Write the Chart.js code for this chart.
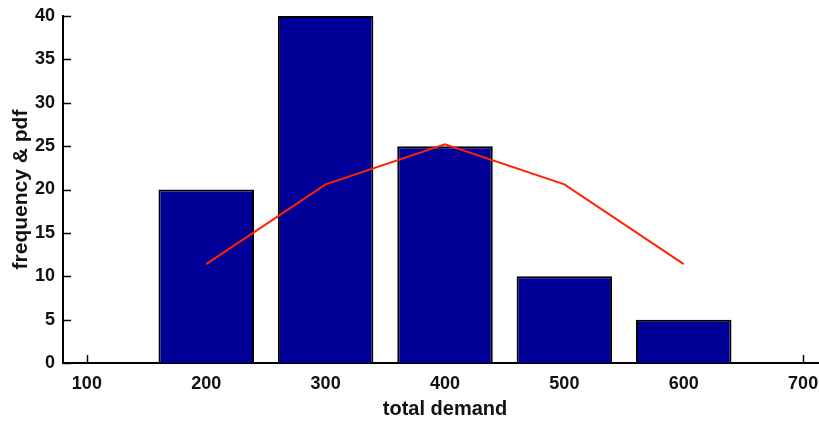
<!DOCTYPE html>
<html>
<head>
<meta charset="utf-8">
<script src="https://cdn.jsdelivr.net/npm/chart.js@4"></script>
<style>
  html, body { margin: 0; padding: 0; background: #fff; overflow: hidden; }
  #wrap { width: 830px; height: 421px; }
</style>
</head>
<body>
<div id="wrap"><canvas id="chart" width="830" height="421"></canvas></div>
<script>
const demand    = [200, 300, 400, 500, 600]
const frequency = [20, 40, 25, 10, 5]
const pdf       = [11.4, 20.6, 25.2, 20.6, 11.4]
const xTicks    = [100, 200, 300, 400, 500, 600, 700]
const yTicks    = [0, 5, 10, 15, 20, 25, 30, 35, 40]

const FONT = 'Liberation Sans, Arial, sans-serif'

// small inward tick marks, like the original plot
const inwardTicks = {
  id: 'inwardTicks',
  beforeDatasetsDraw(chart) {
    const { ctx, chartArea, scales } = chart
    ctx.save()
    ctx.strokeStyle = '#000'
    ctx.lineWidth = 1.5
    xTicks.forEach(v => {
      const px = Math.round(scales.x.getPixelForValue(v)) + 0.5
      ctx.beginPath(); ctx.moveTo(px, chartArea.bottom); ctx.lineTo(px, chartArea.bottom - 8); ctx.stroke()
    })
    yTicks.forEach(v => {
      const py = Math.round(scales.y.getPixelForValue(v)) + 0.5
      ctx.beginPath(); ctx.moveTo(chartArea.left, py); ctx.lineTo(chartArea.left + 8, py); ctx.stroke()
    })
    ctx.restore()
  }
}

new Chart(document.getElementById('chart'), {
  type: 'bar',
  data: {
    datasets: [
      {
        type: 'line', label: 'pdf',
        data: demand.map((x, i) => ({ x, y: pdf[i] })),
        borderColor: '#ff2200', borderWidth: 2, pointRadius: 0, tension: 0, fill: false, order: 0
      },
      {
        type: 'bar', label: 'frequency',
        data: demand.map((x, i) => ({ x, y: frequency[i] })),
        backgroundColor: '#000099', borderColor: '#000', borderWidth: 2,
        barPercentage: 0.8, categoryPercentage: 1.0, order: 1
      }
    ]
  },
  options: {
    responsive: false, animation: false,
    layout: { padding: { top: 16, right: 3, left: 0, bottom: 0 } },
    plugins: { legend: { display: false }, tooltip: { enabled: false } },
    scales: {
      x: {
        type: 'linear', min: 80, max: 720, offset: false,
        afterBuildTicks: s => { s.ticks = xTicks.map(v => ({ value: v })) },
        afterFit: s => { s.height = 58; s.paddingLeft = 0; s.paddingRight = 0 },
        grid: { display: false, drawTicks: false },
        border: { display: true, color: '#000', width: 2 },
        ticks: { color: '#111', padding: 10, font: { family: FONT, size: 18, weight: 'bold' } },
        title: { display: true, text: 'total demand', color: '#111', padding: { top: 3, bottom: 0 }, font: { family: FONT, size: 20, weight: 'bold' } }
      },
      y: {
        min: 0, max: 40,
        afterBuildTicks: s => { s.ticks = yTicks.map(v => ({ value: v })) },
        afterFit: s => { s.width = 63; s.paddingTop = 0; s.paddingBottom = 0 },
        grid: { display: false, drawTicks: false },
        border: { display: true, color: '#000', width: 2 },
        ticks: { color: '#111', padding: 8, font: { family: FONT, size: 18, weight: 'bold' } },
        title: { display: true, text: 'frequency & pdf', color: '#111', padding: { top: 9, bottom: 0 }, font: { family: FONT, size: 21, weight: 'bold' } }
      }
    }
  },
  plugins: [inwardTicks]
})
</script>
</body>
</html>
